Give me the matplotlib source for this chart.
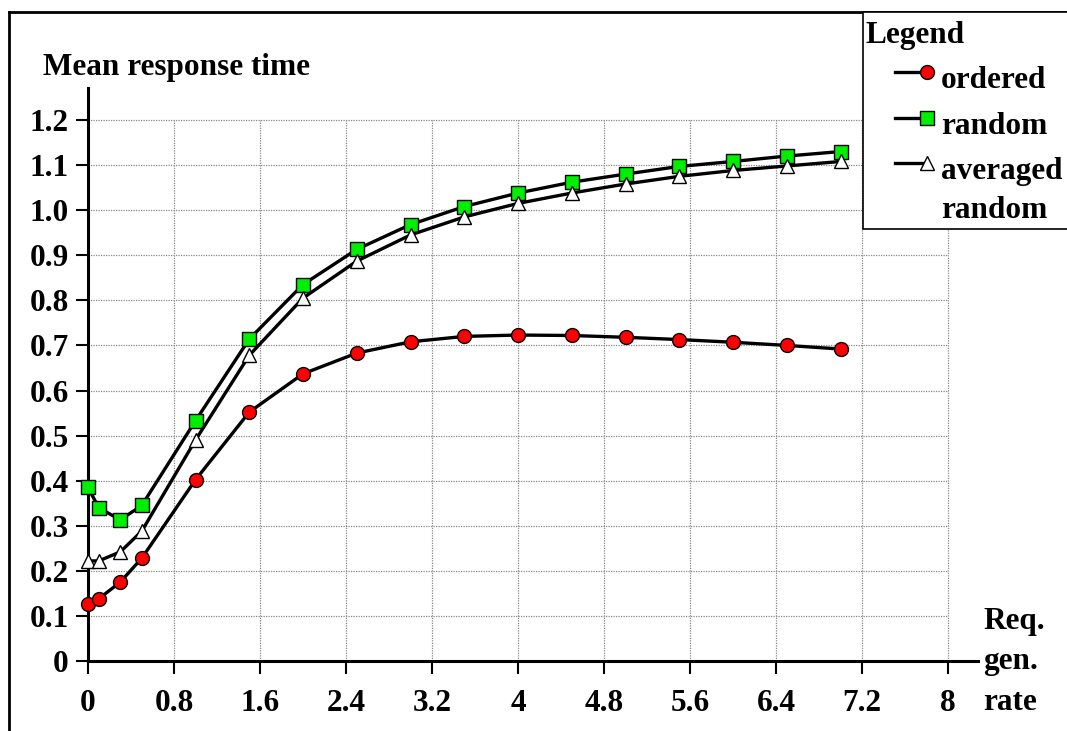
import matplotlib
matplotlib.use("Agg")
import matplotlib.pyplot as plt
from matplotlib.lines import Line2D
from matplotlib.patches import Rectangle

# ---- data ----
x_vals = [0, 0.1, 0.3, 0.5, 1.0, 1.5, 2.0, 2.5, 3.0, 3.5, 4.0, 4.5, 5.0, 5.5, 6.0, 6.5, 7.0]
ordered = [0.127, 0.138, 0.175, 0.228, 0.402, 0.552, 0.637, 0.683, 0.708, 0.720,
           0.723, 0.722, 0.718, 0.713, 0.707, 0.700, 0.692]
random_ = [0.385, 0.340, 0.313, 0.345, 0.533, 0.714, 0.835, 0.913, 0.968, 1.008,
           1.038, 1.062, 1.080, 1.097, 1.108, 1.120, 1.130]
averaged = [0.222, 0.222, 0.242, 0.288, 0.490, 0.678, 0.805, 0.887, 0.945, 0.985,
            1.015, 1.038, 1.058, 1.075, 1.088, 1.098, 1.108]
x_ticks = [0, 0.8, 1.6, 2.4, 3.2, 4, 4.8, 5.6, 6.4, 7.2, 8]
x_tick_labels = ["0", "0.8", "1.6", "2.4", "3.2", "4", "4.8", "5.6", "6.4", "7.2", "8"]
y_ticks = [0, 0.1, 0.2, 0.3, 0.4, 0.5, 0.6, 0.7, 0.8, 0.9, 1.0, 1.1, 1.2]
y_tick_labels = ["0", "0.1", "0.2", "0.3", "0.4", "0.5", "0.6", "0.7", "0.8", "0.9", "1.0", "1.1", "1.2"]
legend_labels = ["ordered", "random", "averaged\nrandom"]

W, H = 1067, 731
fig = plt.figure(figsize=(W / 100, H / 100), dpi=100)
plt.rcParams['font.family'] = ['Liberation Serif', 'DejaVu Serif']
FS = 22.5
LFS = 22.5

# axes geometry in pixels
x0_px, x8_px = 88, 948
y0_px, y12_px = 661, 120
px_per_x = (x8_px - x0_px) / 8.0
px_per_y = (y0_px - y12_px) / 1.2
x_right_px = 978
y_top_px = 88
xmax = (x_right_px - x0_px) / px_per_x
ymax = (y0_px - y_top_px) / px_per_y

ax = fig.add_axes([x0_px / W, 1 - y0_px / H, (x_right_px - x0_px) / W, (y0_px - y_top_px) / H])
ax.set_xlim(0, xmax)
ax.set_ylim(0, ymax)
ax.patch.set_visible(False)
for s in ["top", "right"]:
    ax.spines[s].set_visible(False)
for s in ["left", "bottom"]:
    ax.spines[s].set_linewidth(2.2)
    ax.spines[s].set_color("black")

# grid
for yv in y_ticks[1:]:
    ax.plot([0, 8], [yv, yv], color="#888888", lw=0.9, ls=(0, (1, 1)), zorder=1)
for xv in x_ticks[1:]:
    ax.plot([xv, xv], [0, 1.2], color="#888888", lw=0.9, ls=(0, (1, 1)), zorder=1)

ax.set_xticks(x_ticks)
ax.set_xticklabels(x_tick_labels, fontsize=FS, fontweight="bold")
ax.set_yticks(y_ticks)
ax.set_yticklabels(y_tick_labels, fontsize=FS, fontweight="bold")
ax.tick_params(axis="x", direction="out", length=9, width=1.5, pad=11)
ax.tick_params(axis="y", direction="out", length=9, width=1.5, pad=5)

lw = 2.4
MS = 10
ax.plot(x_vals, ordered, color="black", lw=lw, marker="o", ms=MS,
        mfc="#ff0000", mec="black", mew=1, zorder=3, clip_on=False)
ax.plot(x_vals, random_, color="black", lw=lw, marker="s", ms=MS - 0.5,
        mfc="#00ee00", mec="black", mew=1, zorder=3, clip_on=False)
ax.plot(x_vals, averaged, color="black", lw=lw, marker="^", ms=MS,
        mfc="white", mec="black", mew=1, zorder=4, clip_on=False)

# title-like label
fig.text(43 / W, 1 - 68 / H, "Mean response time", fontsize=FS, fontweight="bold",
         ha="left", va="center")

# axis label on the right
for txt, yy in [("Req.", 621), ("gen.", 661), ("rate", 702)]:
    fig.text(983 / W, 1 - yy / H, txt, fontsize=FS, fontweight="bold", ha="left", va="center")

# outer frame
fig.add_artist(Line2D([9 / W, 9 / W], [0, 1 - 12 / H], transform=fig.transFigure,
                      color="black", lw=2))
fig.add_artist(Line2D([9 / W, 1], [1 - 12 / H, 1 - 12 / H], transform=fig.transFigure,
                      color="black", lw=2))

# legend box
fig.add_artist(Rectangle((863 / W, 1 - 229 / H), (W - 863) / W + 0.01, (229 - 12) / H,
                         transform=fig.transFigure, facecolor="white", edgecolor="black",
                         lw=1.2, zorder=5))
fig.text(866 / W, 1 - 36 / H, "Legend", fontsize=LFS, fontweight="bold",
         ha="left", va="center", zorder=6)
leg_specs = [
    ("o", "#ff0000", MS, 72, 81),
    ("s", "#00ee00", MS - 0.5, 118, 127),
    ("^", "white", MS, 163, 172),
]
for (mk, fc, ms, ly, ty), lab in zip(leg_specs, legend_labels):
    fig.add_artist(Line2D([895 / W, 926 / W], [1 - ly / H, 1 - ly / H],
                          transform=fig.transFigure, color="black", lw=lw, zorder=6))
    fig.add_artist(Line2D([927 / W], [1 - ly / H], transform=fig.transFigure,
                          marker=mk, ms=ms, mfc=fc, mec="black", mew=1, ls="none", zorder=7))
    parts = lab.split("\n")
    for i, p in enumerate(parts):
        fig.text(941 / W, 1 - (ty + 39 * i) / H, p, fontsize=LFS, fontweight="bold",
                 ha="left", va="center", zorder=6)

fig.savefig("out.png", dpi=100, facecolor="white")
